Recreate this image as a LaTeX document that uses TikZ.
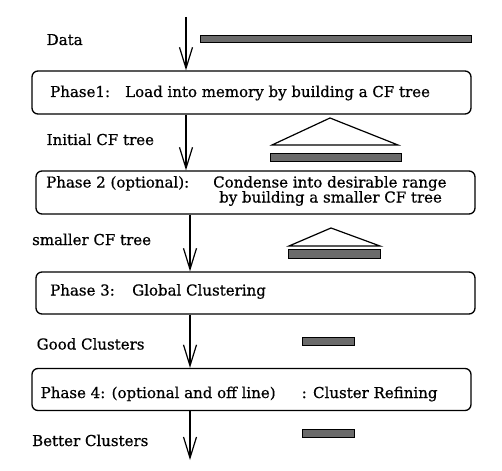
\documentclass[tikz,border=0pt]{standalone}
\usepackage{fontspec}
\setmainfont[FakeBold=0.6]{DejaVu Serif}
\usetikzlibrary{arrows.meta}
\begin{document}
\begin{tikzpicture}[x=1pt,y=-1pt,
  phasebox/.style={draw,line width=1.3pt,rounded corners=6pt,inner sep=0pt},
  lbl/.style={anchor=base west,inner sep=0pt,font=\fontsize{15}{17}\selectfont},
  bar/.style={draw,fill=black!58,line width=1pt},
  tri/.style={draw,line width=1.2pt,line join=miter},
  arr/.style={line width=1.2pt,-{Straight Barb[length=21pt,width=13pt,line width=1.2pt]}}]
\useasboundingbox (0,0) rectangle (502,470);
% boxes
\node[phasebox,minimum width=439pt,minimum height=43pt] (b1) at (251.5,92.5) {};
\node[phasebox,minimum width=439pt,minimum height=43pt] (b2) at (255.5,192.5) {};
\node[phasebox,minimum width=439pt,minimum height=42pt] (b3) at (255.5,293) {};
\node[phasebox,minimum width=439pt,minimum height=42pt] (b4) at (251.5,389.5) {};
% arrows
\coordinate (a0) at (186,17);
\coordinate (a5) at (190,460);
\draw[arr] (a0) -- (a0 |- b1.north);
\draw[arr] (a0 |- b1.south) -- (a0 |- b2.north);
\draw[arr] (a5 |- b2.south) -- (a5 |- b3.north);
\draw[arr] (a5 |- b3.south) -- (a5 |- b4.north);
\draw[arr] (a5 |- b4.south) -- (a5);
% labels
\node[lbl] (t0) at (46.5,45) {Data};
\node[lbl] (t1) at (50,97) {Phase1:};
\node[lbl] (t1b) at (125,97) {Load into memory by building a CF tree};
\node[lbl] (t2) at (46.5,145) {Initial CF tree};
\node[lbl] (t3) at (46,187.5) {Phase 2 (optional):};
\node[lbl] (t3b) at (213,187.5) {Condense into desirable range};
\node[lbl] (t3c) at (219,202.5) {by building a smaller CF tree};
\node[lbl] (t4) at (32,245) {smaller CF tree};
\node[lbl] (t5) at (50,295.5) {Phase 3:};
\node[lbl] (t5b) at (132,295.5) {Global Clustering};
\node[lbl] (t6) at (36.5,349.5) {Good Clusters};
\node[lbl] (t7) at (40.5,398) {Phase 4: (optional and off line)};
\node[lbl] (t7b) at (301.5,398) {: Cluster Refining};
\node[lbl] (t8) at (32,446) {Better Clusters};
% data bars
\draw[bar] (200,36) rectangle (471,43);
\draw[tri] (272,145) -- (330,118) -- (398,145) -- cycle;
\draw[bar] (270,153.5) rectangle (401,162);
\draw[tri] (289,246) -- (331,228) -- (380,246) -- cycle;
\draw[bar] (288,249.5) rectangle (380,258);
\draw[bar] (302,337) rectangle (354,345);
\draw[bar] (302,429) rectangle (354,437);
\end{tikzpicture}
\end{document}
